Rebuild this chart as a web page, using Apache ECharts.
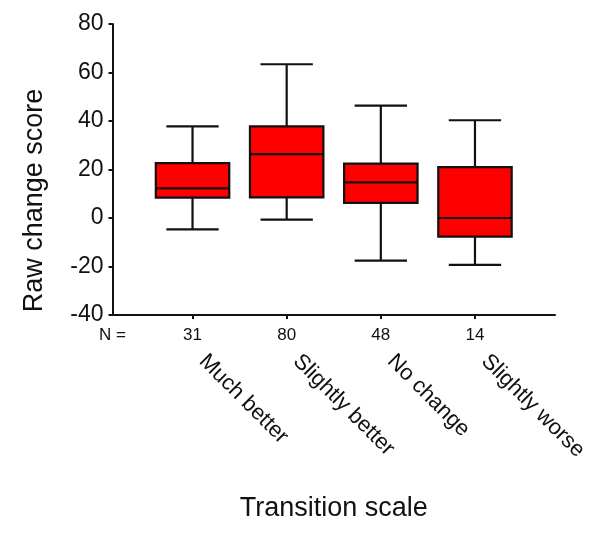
<!DOCTYPE html>
<html>
<head>
<meta charset="utf-8">
<script src="https://cdn.jsdelivr.net/npm/echarts@6/dist/echarts.min.js"></script>
<style>
html,body{margin:0;padding:0;background:#fff;}
#chart{width:600px;height:545px;}
</style>
</head>
<body>
<div id="chart"></div>
<script>
// ---- data ----
const categories = ['Much better', 'Slightly better', 'No change', 'Slightly worse'];
const nLabels = ['31', '80', '48', '14'];
const whiskerLow = [-4.7, -0.7, -17.6, -19.3];
const q1 = [8.4, 8.5, 6.2, -7.7];
const median = [12.2, 26.3, 14.7, 0];
const q3 = [22.6, 37.8, 22.4, 21.0];
const whiskerHigh = [37.8, 63.4, 46.3, 40.3];
const yTicks = [-40, -20, 0, 20, 40, 60, 80];

const positions = categories.map((c, i) => i + 1);
const boxData = categories.map((c, i) => [positions[i], whiskerLow[i], q1[i], median[i], q3[i], whiskerHigh[i]]);

const FONT = "'Liberation Sans', Arial, sans-serif";
const INK = '#111';
const X_MIN = 0.15, X_MAX = 4.85;
const BOX_HALF = 0.39, CAP_HALF = 0.278;
const gridCfg = { left: 112.5, right: 45, top: 24, bottom: 230, containLabel: false };

function idxOf(v) { return Math.round(v) - 1; }

const chart = echarts.init(document.getElementById('chart'), null, { renderer: 'canvas' });

function renderBox(params, api) {
  const x = api.value(0);
  const lo = api.value(1), a = api.value(2), m = api.value(3), b = api.value(4), hi = api.value(5);
  const pC = (xv, yv) => api.coord([xv, yv]);
  const lineStyle = { stroke: INK, lineWidth: 2.2, fill: null };
  const c = pC(x, 0)[0];
  const bl = pC(x - BOX_HALF, a), tr = pC(x + BOX_HALF, b);
  const capL = pC(x - CAP_HALF, 0)[0], capR = pC(x + CAP_HALF, 0)[0];
  const yLo = pC(x, lo)[1], yA = pC(x, a)[1], yM = pC(x, m)[1], yB = pC(x, b)[1], yHi = pC(x, hi)[1];
  return {
    type: 'group',
    children: [
      { type: 'line', shape: { x1: c, y1: yB, x2: c, y2: yHi }, style: lineStyle },
      { type: 'line', shape: { x1: c, y1: yLo, x2: c, y2: yA }, style: lineStyle },
      { type: 'line', shape: { x1: capL, y1: yHi, x2: capR, y2: yHi }, style: lineStyle },
      { type: 'line', shape: { x1: capL, y1: yLo, x2: capR, y2: yLo }, style: lineStyle },
      { type: 'rect', shape: { x: bl[0], y: tr[1], width: tr[0] - bl[0], height: bl[1] - tr[1] },
        style: { fill: '#ff0000', stroke: INK, lineWidth: 2.2 } },
      { type: 'line', shape: { x1: bl[0], y1: yM, x2: tr[0], y2: yM }, style: lineStyle }
    ]
  };
}

const option = {
  animation: false,
  backgroundColor: '#ffffff',
  textStyle: { fontFamily: FONT },
  grid: [Object.assign({}, gridCfg), Object.assign({}, gridCfg)],
  xAxis: [
    {
      type: 'value', gridIndex: 0, min: X_MIN, max: X_MAX,
      axisLine: { show: true, onZero: false, lineStyle: { color: INK, width: 2 } },
      axisTick: { show: true, customValues: positions, length: 4, lineStyle: { color: INK, width: 2 } },
      axisLabel: {
        show: true, customValues: [X_MIN].concat(positions), margin: 12,
        showMinLabel: true, showMaxLabel: true,
        formatter: (v) => (v < 0.5 ? 'N =' : nLabels[idxOf(v)]),
        fontSize: 17, color: INK, fontFamily: FONT
      },
      splitLine: { show: false },
      name: 'Transition scale', nameLocation: 'middle', nameGap: 180,
      nameTextStyle: { fontSize: 27, color: INK, fontFamily: FONT, lineHeight: 27 }
    },
    {
      type: 'value', gridIndex: 1, min: X_MIN, max: X_MAX,
      axisLine: { show: false }, axisTick: { show: false }, splitLine: { show: false },
      axisLabel: {
        show: true, customValues: positions, rotate: -45, margin: 33,
        padding: [0, 0, 0, 14],
        formatter: (v) => categories[idxOf(v)],
        fontSize: 22, color: INK, fontFamily: FONT
      }
    }
  ],
  yAxis: [
    {
      type: 'value', gridIndex: 0, min: yTicks[0], max: yTicks[yTicks.length - 1], interval: 20,
      axisLine: { show: true, lineStyle: { color: INK, width: 2 } },
      axisTick: { show: true, length: 4, lineStyle: { color: INK, width: 2 } },
      axisLabel: { fontSize: 23, color: INK, margin: 9, fontFamily: FONT },
      splitLine: { show: false },
      name: 'Raw change score', nameLocation: 'middle', nameGap: 64,
      nameTextStyle: { fontSize: 27, color: INK, fontFamily: FONT, lineHeight: 27, padding: [0, 62, 0, 0] }
    },
    {
      type: 'value', gridIndex: 1, min: yTicks[0], max: yTicks[yTicks.length - 1], show: false
    }
  ],
  series: [
    {
      type: 'custom', xAxisIndex: 0, yAxisIndex: 0,
      renderItem: renderBox,
      encode: { x: 0, y: [1, 2, 3, 4, 5] },
      data: boxData,
      clip: false
    }
  ]
};
chart.setOption(option);
</script>
</body>
</html>
